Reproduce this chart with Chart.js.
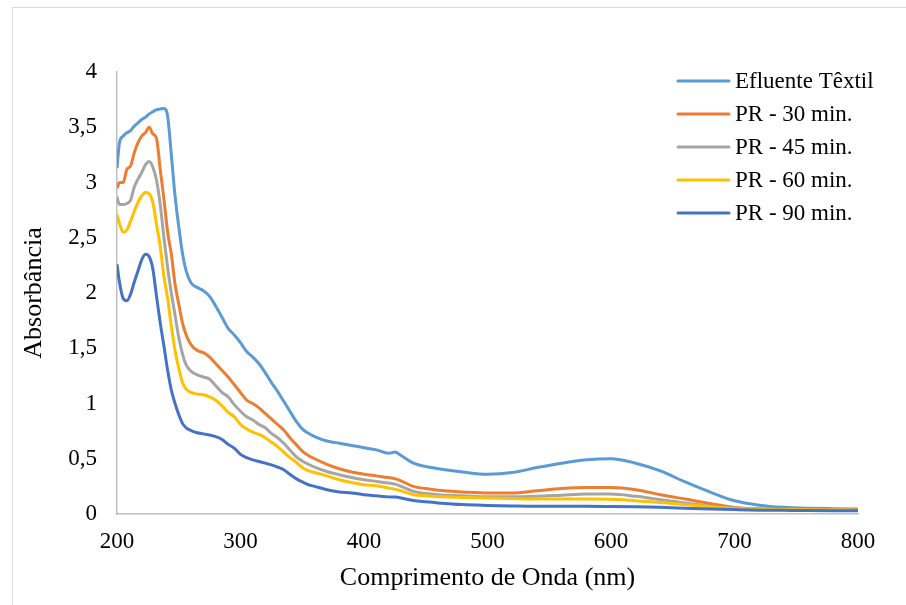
<!DOCTYPE html>
<html>
<head>
<meta charset="utf-8">
<script src="https://cdn.jsdelivr.net/npm/chart.js@4.4.1/dist/chart.umd.min.js"></script>
<style>
  html, body { margin: 0; padding: 0; background: #fff; }
  canvas { display: block; }
</style>
</head>
<body>
<canvas id="spectra-chart" width="906" height="605"></canvas>
<script>
// wavelengths (nm)
const wavelengths = [200,202,205,208,211,214,217,220,223,226,
  229,232,235,238,241,244,247,250,253,256,
  260,265,270,275,280,285,290,295,300,305,
  310,315,320,325,330,335,340,345,350,355,
  360,370,380,390,400,410,420,425,430,440,
  450,460,480,500,520,540,560,580,600,620,
  640,660,680,700,720,740,760,780,800];

const seriesNames = ['Efluente Têxtil', 'PR - 30 min.', 'PR - 45 min.', 'PR - 60 min.', 'PR - 90 min.'];
const seriesColors = ['#5B9BD5', '#ED7D31', '#A5A5A5', '#FFC000', '#4472C4'];

const efluente = [3.13,3.36,3.42,3.45,3.47,3.51,3.54,3.57,3.59,3.62,
  3.64,3.66,3.665,3.67,3.6,3.25,2.88,2.6,2.36,2.2,
  2.09,2.05,2.02,1.97,1.88,1.78,1.68,1.62,1.55,1.47,
  1.42,1.36,1.28,1.19,1.11,1.02,0.93,0.84,0.77,0.73,
  0.70,0.66,0.64,0.62,0.60,0.58,0.55,0.56,0.53,0.46,
  0.43,0.41,0.38,0.36,0.375,0.42,0.46,0.49,0.50,0.46,
  0.39,0.29,0.20,0.12,0.08,0.06,0.052,0.048,0.045];

const pr30 = [2.95,3.0,3.0,3.12,3.15,3.27,3.36,3.42,3.45,3.50,
  3.44,3.40,3.12,2.85,2.55,2.35,2.08,1.9,1.73,1.62,
  1.53,1.48,1.46,1.42,1.36,1.30,1.24,1.17,1.10,1.03,
  1.0,0.96,0.91,0.86,0.81,0.76,0.69,0.63,0.57,0.53,
  0.50,0.45,0.41,0.38,0.36,0.345,0.33,0.32,0.30,0.25,
  0.23,0.215,0.20,0.19,0.19,0.21,0.23,0.24,0.24,0.22,
  0.175,0.135,0.095,0.06,0.047,0.042,0.04,0.037,0.035];

const pr45 = [2.87,2.80,2.80,2.81,2.84,2.96,3.03,3.09,3.16,3.19,
  3.14,3.02,2.80,2.50,2.23,2.0,1.80,1.60,1.45,1.35,
  1.29,1.26,1.24,1.22,1.16,1.10,1.06,0.99,0.93,0.88,
  0.85,0.81,0.78,0.73,0.69,0.64,0.58,0.52,0.48,0.45,
  0.425,0.385,0.355,0.33,0.31,0.295,0.28,0.27,0.25,0.205,
  0.185,0.175,0.165,0.155,0.155,0.16,0.17,0.18,0.18,0.16,
  0.13,0.10,0.07,0.053,0.045,0.04,0.038,0.036,0.035];

const pr60 = [2.71,2.63,2.55,2.57,2.65,2.74,2.82,2.88,2.91,2.90,
  2.82,2.62,2.42,2.15,1.95,1.70,1.48,1.32,1.19,1.13,
  1.10,1.085,1.08,1.06,1.03,0.98,0.92,0.88,0.81,0.77,
  0.74,0.72,0.69,0.65,0.61,0.56,0.51,0.47,0.42,0.39,
  0.375,0.345,0.31,0.285,0.265,0.255,0.235,0.225,0.21,0.175,
  0.165,0.158,0.15,0.145,0.14,0.135,0.135,0.135,0.133,0.12,
  0.105,0.085,0.065,0.05,0.043,0.04,0.038,0.036,0.035];

const pr90 = [2.26,2.10,1.95,1.93,1.99,2.10,2.20,2.30,2.35,2.33,
  2.22,1.97,1.73,1.52,1.30,1.12,1.0,0.90,0.82,0.78,
  0.755,0.735,0.725,0.715,0.70,0.675,0.63,0.595,0.54,0.51,
  0.49,0.475,0.46,0.445,0.425,0.40,0.36,0.32,0.29,0.265,
  0.25,0.22,0.20,0.19,0.175,0.165,0.155,0.153,0.145,0.122,
  0.11,0.10,0.085,0.078,0.073,0.07,0.07,0.07,0.068,0.065,
  0.06,0.053,0.046,0.04,0.035,0.033,0.031,0.03,0.03];

// tick labels
const xTicks = [200, 300, 400, 500, 600, 700, 800];
const yTickLabels = ['0', '0,5', '1', '1,5', '2', '2,5', '3', '3,5', '4'];

const allSeries = [efluente, pr30, pr45, pr60, pr90];
const serif = '"Liberation Serif", "Times New Roman", serif';

const datasets = allSeries.map((vals, i) => ({
  label: seriesNames[i],
  data: vals.map((v, j) => ({ x: wavelengths[j], y: v })),
  borderColor: seriesColors[i],
  backgroundColor: seriesColors[i],
  borderWidth: 3,
  pointRadius: 0,
  cubicInterpolationMode: 'monotone',
  order: allSeries.length - i
}));

// white background + outer frame
const framePlugin = {
  id: 'frame',
  beforeDraw(chart) {
    const ctx = chart.ctx;
    ctx.save();
    ctx.fillStyle = '#fff';
    ctx.fillRect(0, 0, chart.width, chart.height);
    ctx.strokeStyle = '#D9D9D9';
    ctx.lineWidth = 1;
    ctx.strokeRect(12.5, 7.5, chart.width + 10, chart.height + 10);
    ctx.restore();
  }
};

// legend drawn inside the plot, like the original
const legendPlugin = {
  id: 'insideLegend',
  afterDraw(chart) {
    const ctx = chart.ctx;
    ctx.save();
    ctx.font = '23px ' + serif;
    ctx.textBaseline = 'middle';
    ctx.textAlign = 'left';
    chart.data.datasets.forEach((ds, i) => {
      const y = 81 + i * 33;
      ctx.strokeStyle = ds.borderColor;
      ctx.lineWidth = 3;
      ctx.lineCap = 'round';
      ctx.beginPath();
      ctx.moveTo(678, y);
      ctx.lineTo(729, y);
      ctx.stroke();
      ctx.fillStyle = '#000';
      ctx.fillText(ds.label, 735, y + 1);
    });
    ctx.restore();
  }
};

new Chart(document.getElementById('spectra-chart').getContext('2d'), {
  type: 'line',
  data: { datasets: datasets },
  options: {
    responsive: false,
    animation: false,
    layout: { padding: { top: 72, right: 48, bottom: 0, left: 0 } },
    plugins: {
      legend: { display: false },
      tooltip: { enabled: false }
    },
    scales: {
      x: {
        type: 'linear',
        min: 200,
        max: 800,
        afterBuildTicks: (axis) => { axis.ticks = xTicks.map(v => ({ value: v })); },
        afterFit: (axis) => { axis.height = 91; },
        grid: { display: false, drawTicks: false },
        border: { display: true, color: '#BFBFBF', width: 1.5 },
        ticks: {
          color: '#000',
          padding: 14,
          maxRotation: 0,
          font: { family: serif, size: 23 }
        },
        title: {
          display: true,
          text: 'Comprimento de Onda (nm)',
          color: '#000',
          font: { family: serif, size: 26 },
          padding: { top: 0, bottom: 11 }
        }
      },
      y: {
        min: 0,
        max: 4,
        afterBuildTicks: (axis) => { axis.ticks = yTickLabels.map((t, i) => ({ value: i * 0.5 })); },
        afterFit: (axis) => { axis.width = 117; },
        grid: { display: false, drawTicks: false },
        border: { display: true, color: '#BFBFBF', width: 1.5 },
        ticks: {
          color: '#000',
          padding: 20,
          font: { family: serif, size: 23 },
          callback: (value, index) => yTickLabels[index]
        },
        title: {
          display: true,
          text: 'Absorbância',
          color: '#000',
          font: { family: serif, size: 26 },
          padding: { top: 19, bottom: 0 }
        }
      }
    }
  },
  plugins: [framePlugin, legendPlugin]
});
</script>
</body>
</html>
